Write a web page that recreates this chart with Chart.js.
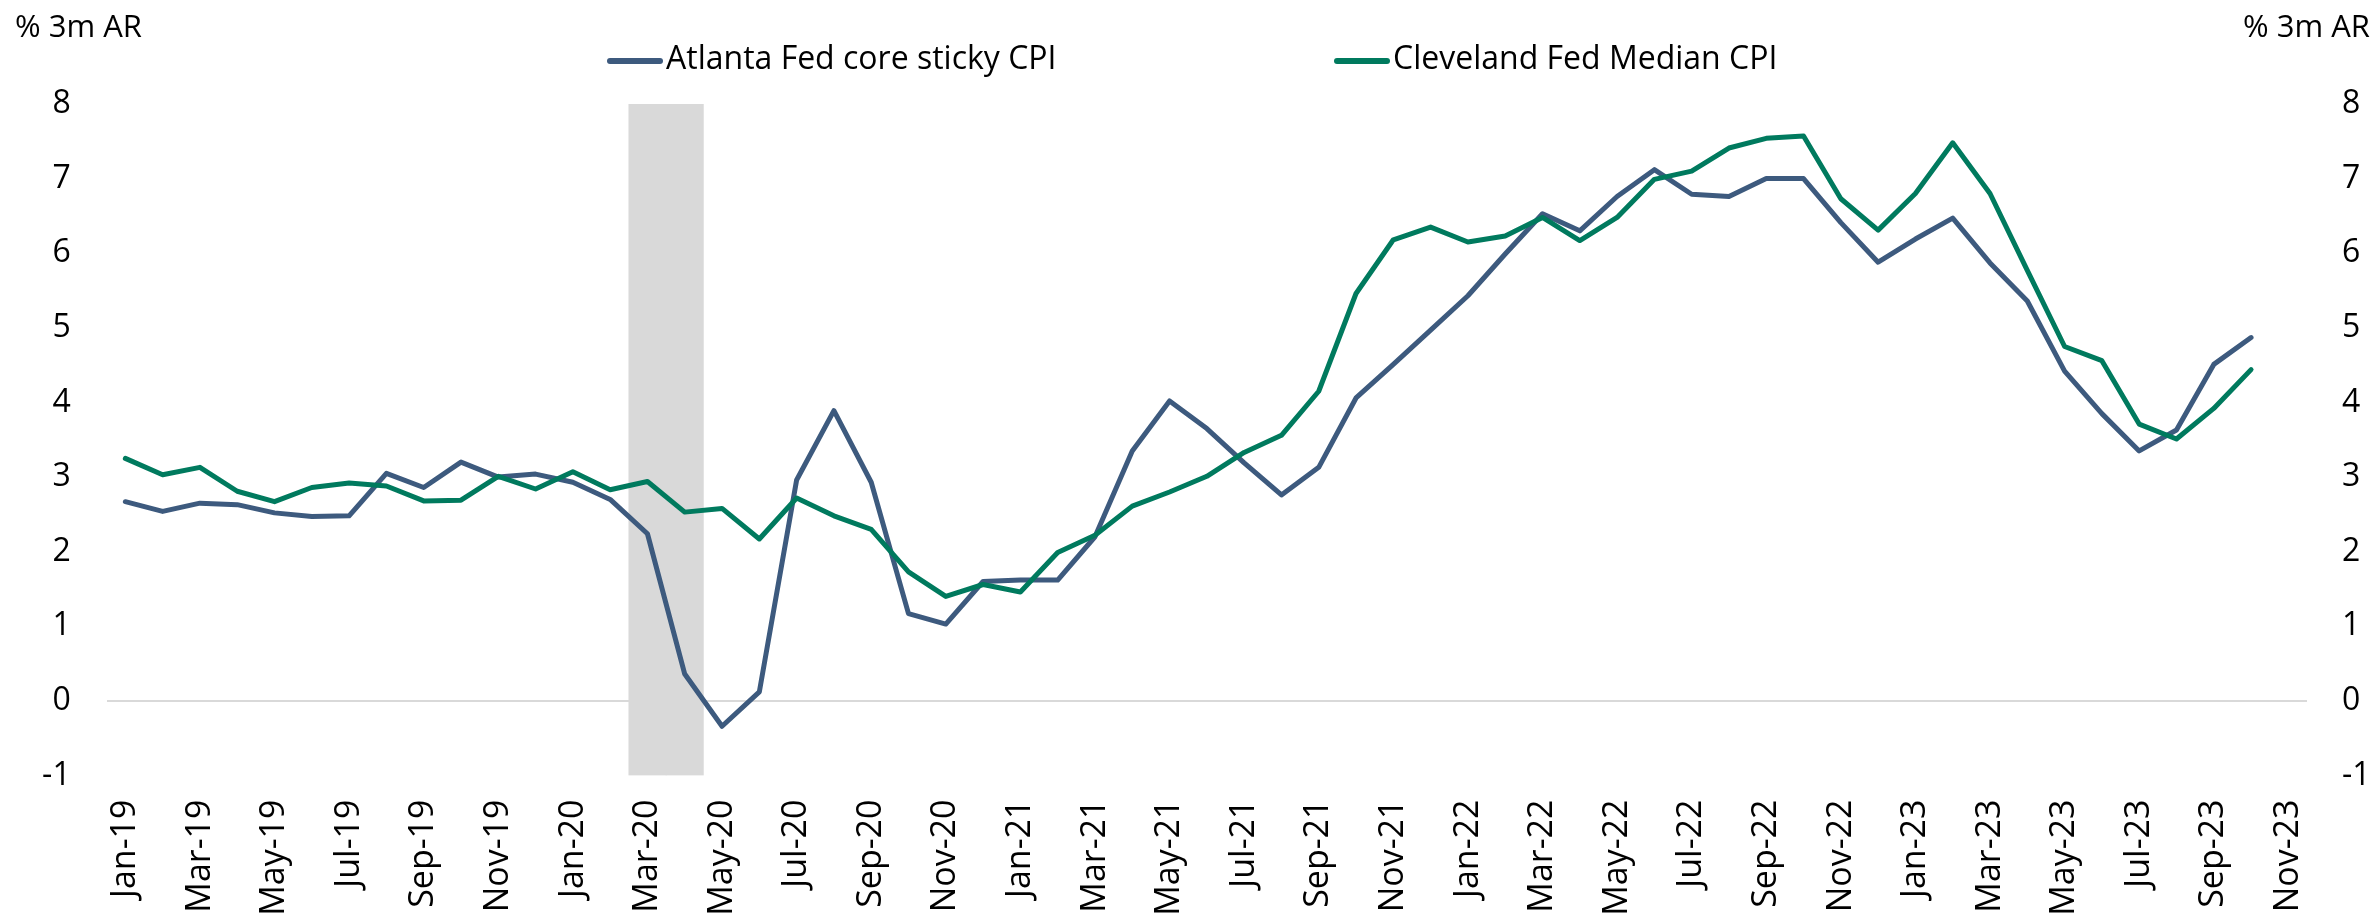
<!DOCTYPE html>
<html>
<head>
<meta charset="utf-8">
<script src="https://cdn.jsdelivr.net/npm/chart.js@4.4.1/dist/chart.umd.min.js"></script>
<style>
html,body{margin:0;padding:0;background:#ffffff;}
canvas{display:block;}
</style>
</head>
<body>
<canvas id="c" width="2379" height="913"></canvas>
<script>
// ---- data ----
const months = [
  'Jan-19','Feb-19','Mar-19','Apr-19','May-19','Jun-19','Jul-19','Aug-19','Sep-19','Oct-19','Nov-19','Dec-19',
  'Jan-20','Feb-20','Mar-20','Apr-20','May-20','Jun-20','Jul-20','Aug-20','Sep-20','Oct-20','Nov-20','Dec-20',
  'Jan-21','Feb-21','Mar-21','Apr-21','May-21','Jun-21','Jul-21','Aug-21','Sep-21','Oct-21','Nov-21','Dec-21',
  'Jan-22','Feb-22','Mar-22','Apr-22','May-22','Jun-22','Jul-22','Aug-22','Sep-22','Oct-22','Nov-22','Dec-22',
  'Jan-23','Feb-23','Mar-23','Apr-23','May-23','Jun-23','Jul-23','Aug-23','Sep-23','Oct-23','Nov-23'
];
const atlantaStickyCPI = [
  2.67, 2.54, 2.65, 2.63, 2.52, 2.47, 2.48, 3.05, 2.86, 3.20, 3.00, 3.04,
  2.93, 2.70, 2.24, 0.36, -0.34, 0.12, 2.96, 3.89, 2.93, 1.17, 1.03, 1.60,
  1.62, 1.62, 2.20, 3.35, 4.02, 3.65, 3.19, 2.76, 3.13, 4.06, 4.51, 4.97,
  5.43, 5.99, 6.53, 6.30, 6.76, 7.12, 6.79, 6.76, 7.00, 7.00, 6.41, 5.88,
  6.19, 6.47, 5.87, 5.36, 4.42, 3.85, 3.35, 3.63, 4.51, 4.87
];
const clevelandMedianCPI = [
  3.25, 3.03, 3.13, 2.81, 2.67, 2.86, 2.92, 2.88, 2.68, 2.69, 3.01, 2.84,
  3.07, 2.83, 2.94, 2.53, 2.58, 2.17, 2.72, 2.48, 2.30, 1.73, 1.40, 1.56,
  1.46, 1.99, 2.22, 2.61, 2.80, 3.01, 3.33, 3.56, 4.15, 5.46, 6.18, 6.35,
  6.15, 6.23, 6.48, 6.17, 6.48, 6.99, 7.10, 7.41, 7.54, 7.57, 6.73, 6.31,
  6.80, 7.48, 6.80, 5.77, 4.75, 4.56, 3.71, 3.51, 3.92, 4.44
];
const recessionMonths = ['Mar-20', 'Apr-20'];
const yMin = -1;
const yMax = 8;
const yStep = 1;
const axisTitle = '% 3m AR';
const seriesNames = ['Atlanta Fed core sticky CPI', 'Cleveland Fed Median CPI'];

// ---- styles ----
const BLUE = '#3d5a7e';
const GREEN = '#007a5e';
const BAND = '#d9d9d9';
const FONT = 'Open Sans';

const recessionBand = months.map(m => recessionMonths.includes(m) ? [yMin, yMax] : null);

const overlay = {
  id: 'overlay',
  afterDraw(chart) {
    const ctx = chart.ctx;
    ctx.save();
    ctx.fillStyle = '#000';
    ctx.font = '31px "' + FONT + '"';
    ctx.textBaseline = 'middle';
    ctx.textAlign = 'left';
    ctx.fillText(axisTitle, 15, 28);
    ctx.textAlign = 'right';
    ctx.fillText(axisTitle, 2370, 28);
    // legend
    ctx.font = '32px "' + FONT + '"';
    const items = [
      {x: 607, ds: chart.data.datasets[1]},
      {x: 1334, ds: chart.data.datasets[2]}
    ];
    items.forEach(it => {
      ctx.strokeStyle = it.ds.borderColor;
      ctx.lineWidth = 6;
      ctx.lineCap = 'round';
      ctx.beginPath();
      ctx.moveTo(it.x + 3, 61);
      ctx.lineTo(it.x + 53, 61);
      ctx.stroke();
      ctx.textAlign = 'left';
      ctx.fillStyle = '#000';
      ctx.fillText(it.ds.label, it.x + 59, 60);
    });
    ctx.restore();
  }
};

new Chart(document.getElementById('c'), {
  data: {
    labels: months,
    datasets: [
      {
        type: 'bar', label: 'Recession', data: recessionBand,
        backgroundColor: BAND, borderWidth: 0, barPercentage: 1, categoryPercentage: 1,
        order: 10, yAxisID: 'y'
      },
      {
        type: 'line', label: seriesNames[0], data: atlantaStickyCPI,
        borderColor: BLUE, backgroundColor: BLUE, borderWidth: 5, pointRadius: 0,
        tension: 0, borderJoinStyle: 'round', borderCapStyle: 'round', order: 2, yAxisID: 'y'
      },
      {
        type: 'line', label: seriesNames[1], data: clevelandMedianCPI,
        borderColor: GREEN, backgroundColor: GREEN, borderWidth: 5, pointRadius: 0,
        tension: 0, borderJoinStyle: 'round', borderCapStyle: 'round', order: 1, yAxisID: 'y'
      }
    ]
  },
  options: {
    responsive: false,
    animation: false,
    devicePixelRatio: 1,
    layout: { padding: { top: 104, bottom: 0, left: 0, right: 0 } },
    plugins: { legend: { display: false }, tooltip: { enabled: false } },
    scales: {
      x: {
        type: 'category', offset: true,
        grid: { display: false, drawTicks: false }, border: { display: false },
        ticks: {
          autoSkip: false, minRotation: 90, maxRotation: 90, padding: 24,
          color: '#000', font: { family: FONT, size: 34 },
          callback: (v, i) => (i % 2 === 0 ? months[i] : '')
        },
        afterFit(s) { s.height = 137.5; }
      },
      y: {
        position: 'left', min: yMin, max: yMax,
        ticks: { stepSize: yStep, padding: 36, color: '#000', font: { family: FONT, size: 32 } },
        grid: {
          drawTicks: false, lineWidth: 2,
          color: c => (c.tick && c.tick.value === 0 ? '#d9d9d9' : 'rgba(0,0,0,0)')
        },
        border: { display: false },
        afterFit(s) { s.width = 106.7; }
      },
      y2: {
        position: 'right', min: yMin, max: yMax,
        ticks: { stepSize: yStep, padding: 35, color: '#000', font: { family: FONT, size: 32 } },
        grid: { display: false, drawTicks: false },
        border: { display: false },
        afterFit(s) { s.width = 72; }
      }
    }
  },
  plugins: [overlay]
});
</script>
</body>
</html>
